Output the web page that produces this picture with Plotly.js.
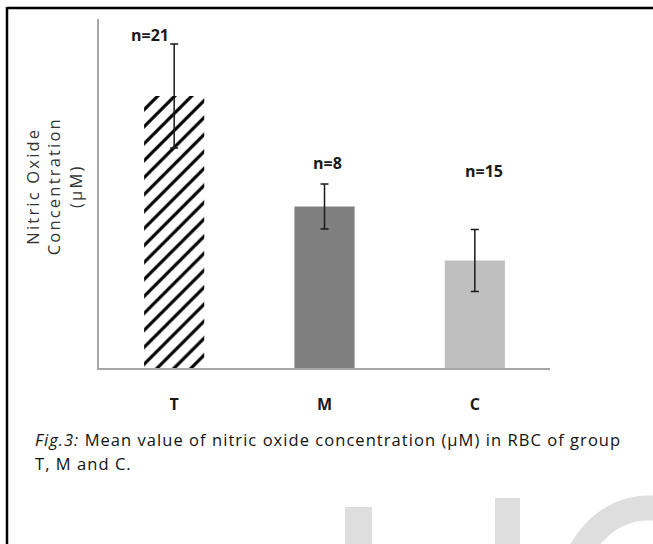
<!DOCTYPE html>
<html>
<head>
<meta charset="utf-8">
<script src="https://cdn.plot.ly/plotly-3.0.1.min.js"></script>
<style>
  html, body { margin: 0; padding: 0; background: #fff; }
  #chart { width: 653px; height: 544px; }
  .annotation[data-index="3"] text { letter-spacing: 2.2px; }
  .annotation[data-index="4"] text, .annotation[data-index="5"] text { letter-spacing: 1.05px; }
</style>
</head>
<body>
<div id="chart"></div>
<script>
// ---- data (arbitrary units, no axis ticks shown) ----
var groups = ['T', 'M', 'C'];
var meanNO = [2.72, 1.615, 1.075];
var errNO = [0.52, 0.225, 0.31];
var nLabels = ['n=21', 'n=8', 'n=15'];
var barColors = ['#ffffff', '#7f7f7f', '#bfbfbf'];

// ---- layout geometry (pixels) ----
var W = 653, H = 544;
var L = 99, R = 550, T = 19, B = 368;
function px(x) { return (x - L) / (R - L); }
function py(y) { return (B - y) / (B - T); }

var errStyle = { type: 'data', visible: true, color: '#1a1a1a', thickness: 1.5, width: 4 };

// hatched bar (group T)
var traceHatched = {
  type: 'bar', name: groups[0],
  x: groups.slice(0, 1), y: meanNO.slice(0, 1),
  width: 0.4,
  marker: {
    color: barColors[0], line: { width: 0 },
    pattern: { shape: '/', bgcolor: '#ffffff', fgcolor: '#000000', fgopacity: 1, size: 12, solidity: 0.26, fillmode: 'replace' }
  },
  error_y: Object.assign({ array: errNO.slice(0, 1) }, errStyle)
};
// solid bars (groups M and C)
var traceSolid = {
  type: 'bar', name: 'M, C',
  x: groups.slice(1), y: meanNO.slice(1),
  width: 0.4,
  marker: { color: barColors.slice(1), line: { width: 0 } },
  error_y: Object.assign({ array: errNO.slice(1) }, errStyle)
};

var nShift = [[-24, 9], [3, 21], [9, 59]];
var annotations = nLabels.map(function (t, i) {
  return {
    x: groups[i], y: meanNO[i] + errNO[i], xref: 'x', yref: 'y',
    text: '<b>' + t + '</b>', showarrow: false,
    xanchor: 'center', yanchor: 'middle',
    xshift: nShift[i][0], yshift: nShift[i][1],
    font: { family: 'Open Sans', size: 16, color: '#1a1a1a' }
  };
});

annotations.push({
  xref: 'paper', yref: 'paper', x: px(54), y: py(186),
  text: 'Nitric Oxide<br>Concentration<br>(µM)', showarrow: false,
  textangle: -90, xanchor: 'center', yanchor: 'middle',
  font: { family: 'Open Sans', size: 16.5, color: '#333333' }
});

annotations.push({
  xref: 'paper', yref: 'paper', x: px(33), y: py(439),
  text: '<i>Fig.3:</i> Mean value of nitric oxide concentration (µM) in RBC of group',
  showarrow: false, xanchor: 'left', yanchor: 'middle', align: 'left',
  font: { family: 'Open Sans', size: 16.5, color: '#111111' }
});
annotations.push({
  xref: 'paper', yref: 'paper', x: px(33), y: py(463),
  text: 'T, M and C.',
  showarrow: false, xanchor: 'left', yanchor: 'middle', align: 'left',
  font: { family: 'Open Sans', size: 16.5, color: '#111111' }
});

function P(x, y) { return px(x).toFixed(4) + ',' + py(y).toFixed(4); }

var wm = '#dedede';
var shapes = [
  // frame
  { type: 'line', xref: 'paper', yref: 'paper', x0: px(7), y0: py(8), x1: px(660), y1: py(8), line: { color: '#000', width: 2.5 } },
  { type: 'line', xref: 'paper', yref: 'paper', x0: px(7), y0: py(7), x1: px(7), y1: py(560), line: { color: '#000', width: 2.5 } },
  // watermark
  { type: 'rect', xref: 'paper', yref: 'paper', x0: px(345), x1: px(372), y0: py(507), y1: py(560), fillcolor: wm, line: { width: 0 }, layer: 'below' },
  { type: 'rect', xref: 'paper', yref: 'paper', x0: px(495), x1: px(520), y0: py(498), y1: py(560), fillcolor: wm, line: { width: 0 }, layer: 'below' },
  { type: 'path', xref: 'paper', yref: 'paper', layer: 'below',
    path: 'M' + P(571, 590) + ' C' + P(571, 547) + ' ' + P(606, 508) + ' ' + P(648, 508) + ' L' + P(700, 508),
    line: { color: wm, width: 25 } }
];

var layout = {
  width: W, height: H,
  margin: { l: L, r: W - R, t: T, b: H - B, pad: 0 },
  paper_bgcolor: '#ffffff', plot_bgcolor: '#ffffff',
  showlegend: false,
  barmode: 'overlay',
  xaxis: {
    type: 'category', categoryorder: 'array', categoryarray: groups,
    showline: true, linecolor: '#a6a6a6', linewidth: 2,
    ticks: '', showgrid: false, zeroline: false, ticklabelstandoff: 21,
    tickfont: { family: 'Open Sans', size: 16, color: '#1a1a1a', weight: 'bold' },
    fixedrange: true
  },
  yaxis: {
    range: [0, 3.49], showline: true, linecolor: '#a6a6a6', linewidth: 2,
    showticklabels: false, ticks: '', showgrid: false, zeroline: false,
    fixedrange: true
  },
  annotations: annotations,
  shapes: shapes
};

Plotly.newPlot('chart', [traceHatched, traceSolid], layout, { displayModeBar: false, staticPlot: true });
</script>
</body>
</html>
